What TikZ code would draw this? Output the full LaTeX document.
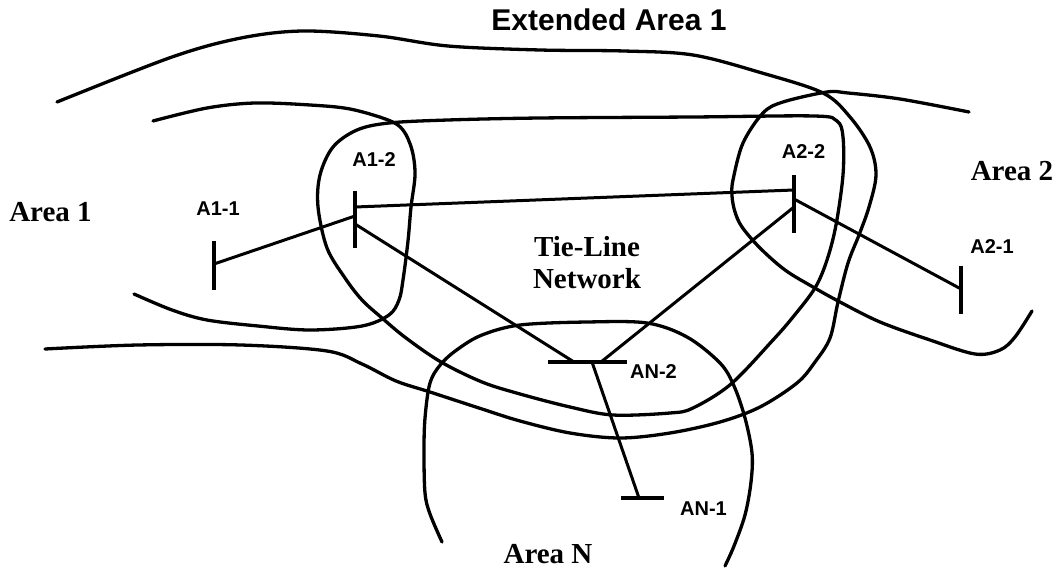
\documentclass[tikz,border=0pt]{standalone}
\usepackage{fontspec}
\setmainfont{Liberation Serif}
\setsansfont{Liberation Sans}
\begin{document}
\begin{tikzpicture}[x=1pt,y=-1pt, line join=round,
  region/.style={line width=3.3pt, line cap=round},
  busbar/.style={line width=3.3pt},
  tieline/.style={line width=3pt},
  arealabel/.style={font=\fontsize{29}{31}\selectfont\bfseries, inner sep=0pt, align=center},
  buslabel/.style={font=\sffamily\fontsize{20}{22}\selectfont\bfseries, inner sep=0pt, anchor=base},
  toplabel/.style={font=\sffamily\fontsize{30}{32}\selectfont\bfseries, inner sep=0pt, anchor=base}]
\useasboundingbox (0,0) rectangle (1062,569);

% ---- region boundaries ----
% Extended Area 1 (outer)
\draw[region] plot[smooth, tension=0.55] coordinates {(57,102) (172,57) (241,38) (303,31) (379,36) (448,46) (540,50) (624,51) (693,55) (762,73) (823,93) (850,117) (870,147) (876,175) (869,207) (859,235) (848,263) (838,302) (830,338) (815,362) (797,383) (760,407) (720,422) (670,433) (620,438) (570,433) (520,421) (482,409) (430,392) (396,381) (362,364) (327,351) (241,345) (138,345) (45,349)};
% Tie-Line Network (closed loop)
\draw[region] plot[smooth cycle, tension=0.55] coordinates {(389,123) (448,120) (540,118) (693,117) (814,116) (837,121) (843,137) (843,175) (836,225) (827,260) (815,288) (793,317) (773,340) (731,384) (693,408) (670,413) (613,415) (570,407) (520,394) (482,382) (441,362) (406,338) (382,318) (362,300) (345,278) (327,248) (318,207) (320,175) (333,147) (357,130)};
% Area 1
\draw[region] plot[smooth, tension=0.55] coordinates {(153,121) (207,108) (255,103) (310,105) (350,109) (388,120) (403,130) (412,150) (415,175) (411,207) (408,241) (403,280) (399,300) (389,315) (362,326) (310,330) (258,326) (207,320) (172,310) (134,294)};
% Area 2
\draw[region] plot[smooth, tension=0.55] coordinates {(969,112) (900,99) (848,93) (827,92) (783,102) (763,113) (743,143) (733,180) (732,196) (735,212) (742,227) (760,248) (785,270) (813,287) (840,302) (880,322) (930,340) (975,354) (1000,350) (1015,337) (1032,311)};
% Area N
\draw[region] plot[smooth, tension=0.55] coordinates {(442,542) (430,514) (425,493) (424,452) (425,418) (430,383) (441,364) (458,349) (482,335) (520,325) (587,322) (647,323) (687,337) (720,363) (734,386) (745,418) (752,453) (751,482) (745,515) (734,546) (725,566)};

% ---- buses ----
\coordinate (a11t) at (214,241); \coordinate (a11b) at (214,290); \coordinate (a11) at (214,264);
\coordinate (a12t) at (355,191); \coordinate (a12b) at (355,248);
\coordinate (a12e) at (355,207); \coordinate (a12w) at (355,216); \coordinate (a12s) at (355,224);
\coordinate (a22t) at (794,175); \coordinate (a22b) at (794,233);
\coordinate (a22w) at (794,190); \coordinate (a22e) at (794,199); \coordinate (a22s) at (794,207);
\coordinate (a21t) at (961,266); \coordinate (a21b) at (961,314); \coordinate (a21) at (961,289);
\coordinate (an2l) at (548,362); \coordinate (an2r) at (627,362);
\coordinate (an2w) at (574,362); \coordinate (an2e) at (601,362); \coordinate (an2s) at (592,362);
\coordinate (an1l) at (621,498); \coordinate (an1r) at (664,498); \coordinate (an1) at (639,498);

\draw[busbar] (a11t) -- (a11b);
\draw[busbar] (a12t) -- (a12b);
\draw[busbar] (a22t) -- (a22b);
\draw[busbar] (a21t) -- (a21b);
\draw[busbar] (an2l) -- (an2r);
\draw[busbar] (an1l) -- (an1r);

% ---- tie lines ----
\draw[tieline] (a11) -- (a12w);
\draw[tieline] (a12e) -- (a22w);
\draw[tieline] (a12s) -- (an2w);
\draw[tieline] (a22e) -- (a21);
\draw[tieline] (a22s) -- (an2e);
\draw[tieline] (an2s) -- (an1);

% ---- labels ----
\node[toplabel] (lext) at (609,31) {Extended Area 1};
\node[arealabel, anchor=base] (la1) at (50.5,222) {Area 1};
\node[arealabel, anchor=base] (la2) at (1012,181) {Area 2};
\node[arealabel, anchor=base] (lan) at (548,563) {Area N};
\node[arealabel, anchor=base] (ltie) at (587,257) {Tie-Line};
\node[arealabel, anchor=base] (lnet) at (587,288) {Network};
\node[buslabel] (l11) at (218,216) {A1-1};
\node[buslabel] (l12) at (374,167) {A1-2};
\node[buslabel] (l22) at (803.5,159) {A2-2};
\node[buslabel] (l21) at (992,254) {A2-1};
\node[buslabel] (ln2) at (653.5,378) {AN-2};
\node[buslabel] (ln1) at (703.5,515) {AN-1};
\end{tikzpicture}
\end{document}
